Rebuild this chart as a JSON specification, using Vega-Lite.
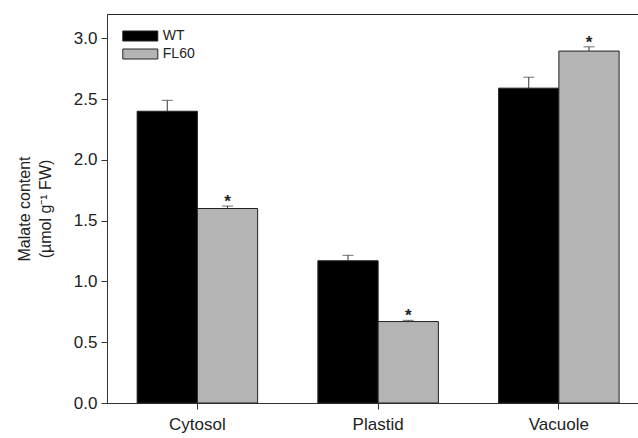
{
  "$schema": "https://vega.github.io/schema/vega-lite/v6.json",
  "width": 531,
  "height": 389,
  "autosize": {"type": "none"},
  "padding": {"left": 107, "top": 14, "right": 0, "bottom": 35},
  "background": "white",
  "config": {
    "font": "Liberation Sans",
    "view": {"stroke": "#222", "strokeWidth": 1},
    "axis": {"domainColor": "#333", "tickColor": "#333", "labelColor": "#222", "titleColor": "#222", "labelFont": "Liberation Sans", "titleFont": "Liberation Sans", "grid": false}
  },
  "data": {
    "values": [
      {"compartment": "Cytosol", "genotype": "WT", "value": 2.40, "hi": 2.49, "sig": ""},
      {"compartment": "Cytosol", "genotype": "FL60", "value": 1.60, "hi": 1.62, "sig": "*"},
      {"compartment": "Plastid", "genotype": "WT", "value": 1.17, "hi": 1.215, "sig": ""},
      {"compartment": "Plastid", "genotype": "FL60", "value": 0.67, "hi": 0.68, "sig": "*"},
      {"compartment": "Vacuole", "genotype": "WT", "value": 2.59, "hi": 2.68, "sig": ""},
      {"compartment": "Vacuole", "genotype": "FL60", "value": 2.895, "hi": 2.93, "sig": "*"}
    ]
  },
  "encoding": {
    "x": {
      "field": "compartment", "type": "nominal", "sort": ["Cytosol", "Plastid", "Vacuole"],
      "scale": {"range": [0, 542.25], "paddingInner": 0.3333, "paddingOuter": 0.1667},
      "axis": {"title": null, "labelAngle": 0, "labelFontSize": 17, "tickSize": 6, "labelPadding": 7, "domainWidth": 1}
    },
    "xOffset": {"field": "genotype", "type": "nominal", "sort": ["WT", "FL60"]}
  },
  "layer": [
    {
      "mark": {"type": "bar", "stroke": "#222", "strokeWidth": 1},
      "encoding": {
        "y": {
          "field": "value", "type": "quantitative",
          "scale": {"domain": [0, 3.2], "nice": false},
          "axis": {"values": [0, 0.5, 1, 1.5, 2, 2.5, 3], "format": ".1f", "labelFontSize": 17, "tickSize": 6, "labelPadding": 4,
                   "title": ["Malate content", "(µmol g⁻¹ FW)"], "titleFontSize": 16, "titleFontWeight": "normal", "titlePadding": 20, "titleLineHeight": 21}
        },
        "color": {
          "field": "genotype", "type": "nominal",
          "scale": {"domain": ["WT", "FL60"], "range": ["#000000", "#b4b4b4"]},
          "legend": {
            "title": null, "orient": "none", "legendX": 26.3, "legendY": 15, "padding": 0,
            "symbolType": "M-3.5,-1H3.5V1H-3.5Z", "symbolSize": 100,
            "symbolStrokeColor": "#222", "symbolStrokeWidth": 1,
            "labelFontSize": 14, "labelOffset": 15.5, "rowPadding": 4, "labelColor": "#222"
          }
        }
      }
    },
    {
      "mark": {"type": "rule", "color": "#333", "strokeWidth": 1},
      "encoding": {
        "y": {"field": "value", "type": "quantitative"},
        "y2": {"field": "hi"}
      }
    },
    {
      "mark": {"type": "tick", "orient": "horizontal", "color": "#333", "size": 11, "thickness": 1},
      "encoding": {
        "y": {"field": "hi", "type": "quantitative"}
      }
    },
    {
      "mark": {"type": "text", "fontSize": 17, "fontWeight": "bold", "baseline": "middle", "dy": -4, "color": "#222"},
      "encoding": {
        "y": {"field": "hi", "type": "quantitative"},
        "text": {"field": "sig"}
      }
    }
  ]
}
